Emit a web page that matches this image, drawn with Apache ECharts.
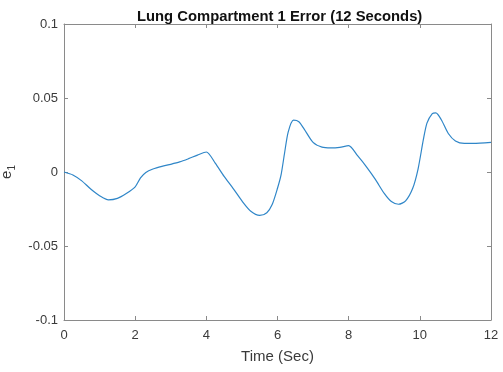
<!DOCTYPE html>
<html>
<head>
<meta charset="utf-8">
<script src="https://cdn.jsdelivr.net/npm/echarts@6/dist/echarts.min.js"></script>
<style>html,body{margin:0;padding:0;background:#fff}#c{width:503px;height:372px}</style>
</head>
<body>
<div id="c"></div>
<script>
const titleText = 'Lung Compartment 1 Error (12 Seconds)';
const xName = 'Time (Sec)';
const xTicks = [0, 2, 4, 6, 8, 10, 12];
const yTicks = [-0.1, -0.05, 0, 0.05, 0.1];
const timeValues = [0,0.25,0.5,0.75,1.0,1.25,1.5,1.75,2.0,2.15,2.3,2.5,2.75,3.0,3.25,3.5,3.75,4.0,4.25,4.5,4.75,5.0,5.25,5.5,5.7,5.85,6.0,6.1,6.2,6.3,6.45,6.6,6.75,7.0,7.25,7.5,7.75,8.0,8.25,8.5,8.75,9.0,9.2,9.4,9.6,9.8,9.95,10.1,10.2,10.35,10.45,10.6,10.8,11.0,11.25,11.5,12.0];
const errorValues = [0,-0.002,-0.006,-0.0115,-0.016,-0.0188,-0.0178,-0.0145,-0.010,-0.004,-0.0003,0.002,0.0038,0.0052,0.0068,0.009,0.0114,0.0135,0.006,-0.003,-0.011,-0.0195,-0.0265,-0.0293,-0.0275,-0.022,-0.011,-0.002,0.013,0.027,0.035,0.034,0.029,0.020,0.0168,0.0163,0.0167,0.0178,0.011,0.0035,-0.005,-0.0145,-0.020,-0.0218,-0.0195,-0.011,0.002,0.022,0.033,0.0395,0.040,0.0355,0.026,0.021,0.0193,0.0193,0.0200];

const data = timeValues.map((t, i) => [t, errorValues[i]]);
const axisGray = '#8a8a8a';
const textGray = '#3a3a3a';
const font = 'Liberation Sans, Arial, Helvetica, sans-serif';

const chart = echarts.init(document.getElementById('c'), null, {renderer: 'canvas'});
chart.setOption({
  animation: false,
  title: {
    text: titleText, left: 132, top: 4,
    textStyle: {fontFamily: font, fontSize: 14.8, fontWeight: 'bold', color: '#111'}
  },
  grid: {left: 64, right: 12, top: 24, bottom: 52, containLabel: false, outerBoundsMode: 'none'},
  xAxis: [{
    type: 'value', min: xTicks[0], max: xTicks[xTicks.length-1], interval: 2,
    name: xName, nameLocation: 'middle', nameGap: 29,
    nameTextStyle: {fontFamily: font, fontSize: 15, color: textGray},
    axisLine: {onZero: false, lineStyle: {color: axisGray, width: 1}},
    axisTick: {inside: true, length: 4, lineStyle: {color: axisGray}},
    axisLabel: {fontFamily: font, fontSize: 13, color: textGray, margin: 9},
    splitLine: {show: false}
  }, {
    type: 'value', position: 'top', min: 0, max: 12, interval: 2,
    axisLine: {onZero: false, lineStyle: {color: axisGray, width: 1}},
    axisTick: {inside: true, length: 4, lineStyle: {color: axisGray}},
    axisLabel: {show: false}, splitLine: {show: false}
  }],
  yAxis: [{
    type: 'value', min: yTicks[0], max: yTicks[yTicks.length-1], interval: 0.05,
    name: '{e|e}{s|1}', nameLocation: 'middle', nameGap: 38, nameRotate: 90,
    nameTextStyle: {
      fontFamily: font, color: textGray,
      rich: {
        e: {fontFamily: font, fontSize: 15, color: textGray},
        s: {fontFamily: font, fontSize: 10, color: textGray, verticalAlign: 'bottom', padding: [11,0,0,0]}
      }
    },
    axisLine: {onZero: false, lineStyle: {color: axisGray, width: 1}},
    axisTick: {inside: true, length: 4, lineStyle: {color: axisGray}},
    axisLabel: {fontFamily: font, fontSize: 13, color: textGray, margin: 6,
      formatter: v => { const r = Math.round(v * 100) / 100; return String(r); }},
    splitLine: {show: false}
  }, {
    type: 'value', position: 'right', min: -0.1, max: 0.1, interval: 0.05,
    axisLine: {onZero: false, lineStyle: {color: axisGray, width: 1}},
    axisTick: {inside: true, length: 4, lineStyle: {color: axisGray}},
    axisLabel: {show: false}, splitLine: {show: false}
  }],
  series: [{
    type: 'line', data: data, xAxisIndex: 0, yAxisIndex: 0,
    showSymbol: false, smooth: 0.25,
    lineStyle: {color: '#2f86c8', width: 1.2}
  }]
});
</script>
</body>
</html>
